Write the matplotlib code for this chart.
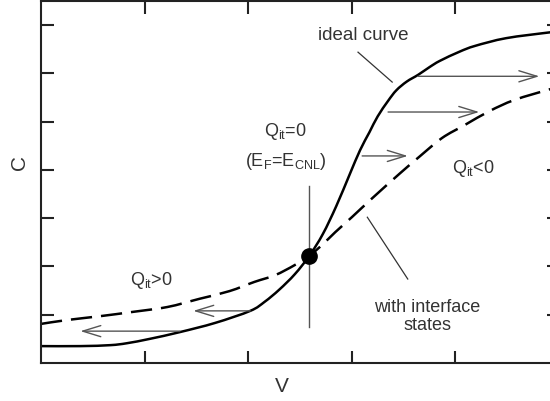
import matplotlib
matplotlib.use("Agg")
import matplotlib.pyplot as plt
import numpy as np
from matplotlib.path import Path
from matplotlib.patches import PathPatch

plt.rcParams["font.family"] = ["Liberation Sans", "DejaVu Sans"]
plt.rcParams["mathtext.fontset"] = "custom"
plt.rcParams["mathtext.rm"] = "Liberation Sans"
plt.rcParams["mathtext.it"] = "Liberation Sans:italic"

# Ideal C-V curve (V, C) in arbitrary units
ideal_v = [0.00, 0.38, 0.67, 0.83, 1.05, 1.34, 1.68, 2.02, 2.16, 2.30, 2.45, 2.59,
           2.72, 2.85, 2.98, 3.08, 3.17, 3.25, 3.35, 3.43, 3.53, 3.64, 3.75, 3.85,
           4.04, 4.19, 4.49, 4.91, 5.00]
ideal_c = [0.35, 0.35, 0.37, 0.41, 0.50, 0.64, 0.83, 1.08, 1.27, 1.52, 1.84, 2.22,
           2.67, 3.25, 3.91, 4.41, 4.78, 5.11, 5.43, 5.65, 5.83, 5.97, 6.13, 6.26,
           6.45, 6.57, 6.73, 6.85, 6.87]

# C-V curve stretched out by interface states
dit_v = [0.00, 0.25, 0.57, 0.89, 1.22, 1.53, 1.82, 2.06, 2.26, 2.45, 2.59, 2.72,
         2.84, 3.00, 3.19, 3.46, 3.65, 3.87, 4.09, 4.33, 4.57, 4.91, 5.00]
dit_c = [0.81, 0.89, 0.97, 1.06, 1.16, 1.33, 1.49, 1.68, 1.82, 2.03, 2.22, 2.46,
         2.71, 3.02, 3.40, 3.92, 4.27, 4.66, 4.93, 5.22, 5.45, 5.67, 5.72]

# Charge-neutrality crossing point
cnl_v, cnl_c = 2.59, 2.22

# Shift arrows: (start V, end V, C)
shift_start = [3.64, 3.35, 3.10, 2.02, 1.34]
shift_end = [4.81, 4.23, 3.54, 1.47, 0.38]
shift_c = [5.94, 5.20, 4.29, 1.08, 0.66]

x_ticks = [1, 2, 3, 4]
y_ticks = [1, 2, 3, 4, 5, 6, 7]


def smooth_path(xs, ys):
    """Cubic Bezier path passing through every given point (Catmull-Rom tangents)."""
    p = np.column_stack([xs, ys]).astype(float)
    n = len(p)
    verts = [p[0]]
    codes = [Path.MOVETO]
    for i in range(n - 1):
        p0 = p[i - 1] if i > 0 else p[i]
        p1, p2 = p[i], p[i + 1]
        p3 = p[i + 2] if i + 2 < n else p[i + 1]
        verts += [p1 + (p2 - p0) / 6.0, p2 - (p3 - p1) / 6.0, p2]
        codes += [Path.CURVE4] * 3
    return Path(verts, codes)


W, H = 550, 402
fig = plt.figure(figsize=(W / 100, H / 100), dpi=100)
ax = fig.add_axes([41 / W, 38 / H, 518 / W, 362 / H])
ax.set_xlim(0, 5)
ax.set_ylim(0, 7.5)

ink = "#333333"
gray = "#555555"

ax.add_patch(PathPatch(smooth_path(ideal_v, ideal_c), fill=False,
                       edgecolor="black", lw=1.8, capstyle="butt"))
ax.add_patch(PathPatch(smooth_path(dit_v, dit_c), fill=False,
                       edgecolor="black", lw=1.8, linestyle=(0, (8.5, 3.6)),
                       capstyle="butt"))

# vertical marker through the crossing point
ax.plot([cnl_v, cnl_v], [0.75, 3.66], color=gray, lw=1.0)
ax.plot([cnl_v], [cnl_c], "o", color="black", markersize=11, zorder=5)

for xs, xe, c in zip(shift_start, shift_end, shift_c):
    ax.annotate("", xy=(xe, c), xytext=(xs, c),
                arrowprops=dict(arrowstyle="->,head_length=0.65,head_width=0.2",
                                color=gray, lw=1.0, shrinkA=0, shrinkB=0,
                                mutation_scale=20))

# leader lines
ax.plot([3.06, 3.39], [6.44, 5.82], color=ink, lw=0.9)
ax.plot([3.15, 3.54], [3.02, 1.74], color=ink, lw=0.9)

fs = 13
ax.text(3.11, 6.81, "ideal curve", ha="center", va="center", fontsize=13.5, color=ink)
ax.text(2.36, 4.82, r"Q$_{\mathregular{it}}$=0", ha="center", va="center",
        fontsize=fs, color=ink)
ax.text(2.36, 4.20, r"(E$_{\mathregular{F}}$=E$_{\mathregular{CNL}}$)", ha="center",
        va="center", fontsize=fs, color=ink)
ax.text(4.17, 4.06, r"Q$_{\mathregular{it}}$<0", ha="center", va="center",
        fontsize=fs, color=ink)
ax.text(1.07, 1.74, r"Q$_{\mathregular{it}}$>0", ha="center", va="center",
        fontsize=fs, color=ink)
ax.text(3.73, 0.98, "with interface\nstates", ha="center", va="center",
        fontsize=fs, color=ink, linespacing=1.05)

ax.set_xticks(x_ticks)
ax.set_yticks(y_ticks)
ax.set_xticklabels([])
ax.set_yticklabels([])
ax.tick_params(direction="in", length=9, width=1.5, top=True, right=True,
               color="#222222")
for s in ax.spines.values():
    s.set_linewidth(1.5)
    s.set_color("#222222")

fig.text(20 / W, 1 - 162 / H, "C", rotation=90, ha="center", va="center",
         fontsize=15, color=ink)
fig.text(282 / W, 1 - 387 / H, "V", ha="center", va="center", fontsize=15, color=ink)

fig.savefig("out.png", dpi=100)
